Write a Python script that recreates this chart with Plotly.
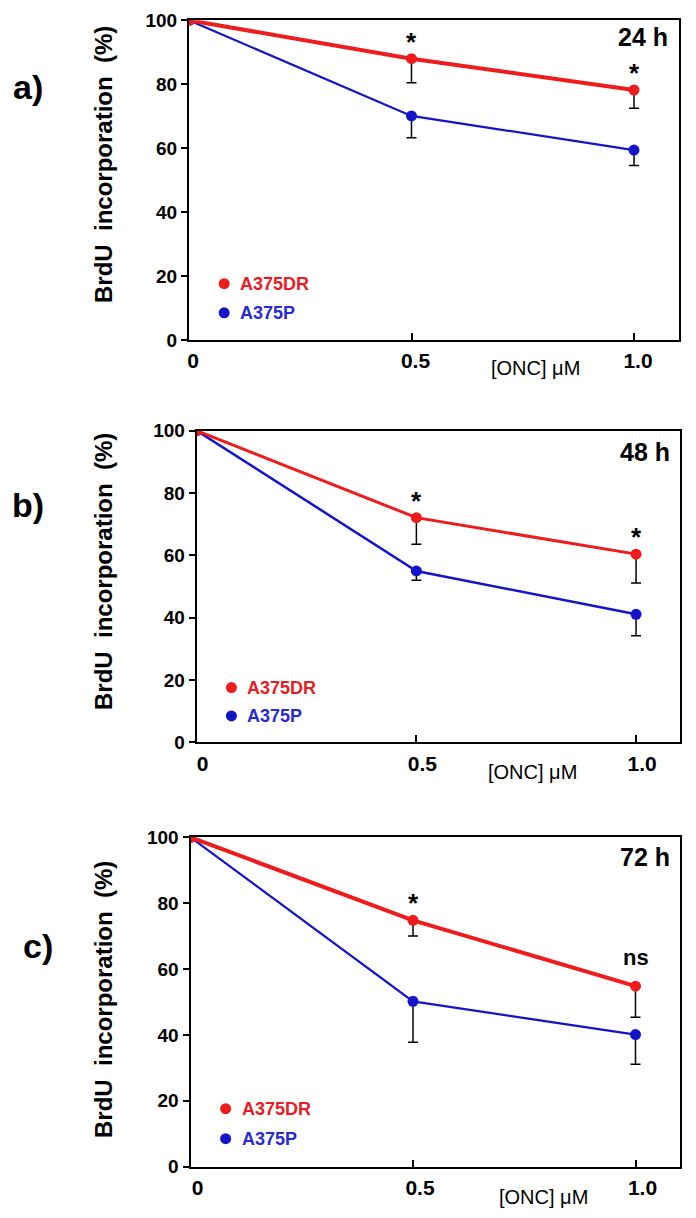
import plotly.graph_objects as go

W, H = 696, 1218

# ---------------- data ----------------
conc = [0, 0.5, 1.0]
x_tick_vals = [0, 0.5, 1.0]
x_tick_text = ["0", "0.5", "1.0"]
y_tick_vals = [0, 20, 40, 60, 80, 100]
series_names = ["A375DR", "A375P"]
x_title = "[ONC] μM"
y_title = "BrdU  incorporation  (%)"
panel_letters = ["a)", "b)", "c)"]
time_labels = ["24 h", "48 h", "72 h"]

dr_24 = [100, 88.0, 78.2]
dr_24_sd = [0, 7.5, 5.7]
p_24 = [100, 70.1, 59.4]
p_24_sd = [0, 6.8, 4.8]
sig_24 = ["", "*", "*"]

dr_48 = [100, 72.1, 60.4]
dr_48_sd = [0, 8.5, 9.3]
p_48 = [100, 55.0, 41.1]
p_48_sd = [0, 3.0, 6.9]
sig_48 = ["", "*", "*"]

dr_72 = [100, 74.8, 54.8]
dr_72_sd = [0, 4.8, 9.4]
p_72 = [100, 50.2, 40.1]
p_72_sd = [0, 12.4, 9.0]
sig_72 = ["", "*", "ns"]

# ---------------- style ----------------
FONT = "Arial, 'Liberation Sans', sans-serif"
RED = "#ee1c1c"
BLUE = "#1414c8"
RED_TXT = "#e81c22"
BLUE_TXT = "#2a2ad2"

panels = [
    dict(dr=dr_24, dr_sd=dr_24_sd, p=p_24, p_sd=p_24_sd, sig=sig_24,
         xpx=(189, 678.5), ypx=(20.3, 340), dr_w=4, p_w=2.2, tshift=4,
         letter=(28, 87), ytitle_c=165, onc=(535, 368), time=(670, 37)),
    dict(dr=dr_48, dr_sd=dr_48_sd, p=p_48, p_sd=p_48_sd, sig=sig_48,
         xpx=(196.7, 680), ypx=(430.7, 742.4), dr_w=3, p_w=2.5, tshift=6,
         letter=(28, 505), ytitle_c=572, onc=(532, 772), time=(672, 452)),
    dict(dr=dr_72, dr_sd=dr_72_sd, p=p_72, p_sd=p_72_sd, sig=sig_72,
         xpx=(190.5, 680), ypx=(837.3, 1166.7), dr_w=4, p_w=2.2, tshift=7,
         letter=(38, 946), ytitle_c=1000, onc=(543, 1197), time=(672, 857)),
]

legend_pos = dict(x=0.079, y_dr=17.6, y_p=8.5)

fig = go.Figure()
annotations = []
layout_axes = {}

for i, pn in enumerate(panels):
    k = "" if i == 0 else str(i + 1)
    xa, ya = "x" + k, "y" + k
    # blue first (below), red on top
    for vals, sd, color, lw in [(pn["p"], pn["p_sd"], BLUE, pn["p_w"]),
                                (pn["dr"], pn["dr_sd"], RED, pn["dr_w"])]:
        fig.add_trace(go.Scatter(
            x=conc, y=vals, mode="lines+markers", xaxis=xa, yaxis=ya,
            line=dict(color=color, width=lw),
            marker=dict(color=color, size=11),
            error_y=dict(type="data", symmetric=False, array=[0] * len(sd),
                         arrayminus=sd, color="black", thickness=1.5, width=5),
            showlegend=False, hoverinfo="skip"))
    # in-plot legend
    for name, yy, color, tcol in [(series_names[0], legend_pos["y_dr"], RED, RED_TXT),
                                  (series_names[1], legend_pos["y_p"], BLUE, BLUE_TXT)]:
        fig.add_trace(go.Scatter(
            x=[legend_pos["x"]], y=[yy], mode="markers", xaxis=xa, yaxis=ya,
            marker=dict(color=color, size=11),
            showlegend=False, hoverinfo="skip"))
        annotations.append(dict(
            x=legend_pos["x"], y=yy, xref=xa, yref=ya, text="<b>%s</b>" % name,
            showarrow=False, xanchor="left", yanchor="middle", xshift=14,
            font=dict(family=FONT, size=18, color=tcol)))
    # significance marks
    for xv, yv, s in zip(conc, pn["dr"], pn["sig"]):
        if not s:
            continue
        annotations.append(dict(
            x=xv, y=yv, xref=xa, yref=ya, text="<b>%s</b>" % s, showarrow=False,
            yanchor="bottom", yshift=(0 if s == "*" else 14),
            font=dict(family=FONT, size=26 if s == "*" else 22, color="black")))

    x0, x1 = pn["xpx"]
    ytop, ybot = pn["ypx"]
    axis_common = dict(showline=True, linecolor="black", linewidth=2, mirror=True,
                       showgrid=False, zeroline=False, automargin=False)
    layout_axes["xaxis" + k] = dict(
        domain=[x0 / W, x1 / W], anchor=ya, range=[0, 1.1],
        tickvals=x_tick_vals, ticktext=x_tick_text,
        ticks="inside", ticklen=7, tickwidth=2, tickcolor="black",
        ticklabelstandoff=1, ticklabelshift=pn["tshift"],
        tickfont=dict(family=FONT, size=21, color="black", weight="bold"),
        **axis_common)
    layout_axes["yaxis" + k] = dict(
        domain=[1 - ybot / H, 1 - ytop / H], anchor=xa, range=[0, 100],
        tickvals=y_tick_vals, ticks="outside", ticklen=6, tickwidth=2,
        tickcolor="black",
        tickfont=dict(family=FONT, size=19, color="black", weight="bold"),
        **axis_common)
    # x axis title
    annotations.append(dict(
        x=pn["onc"][0] / W, y=1 - pn["onc"][1] / H, xref="paper", yref="paper",
        text=x_title, showarrow=False, xanchor="center", yanchor="middle",
        font=dict(family=FONT, size=20, color="black")))
    # y axis title
    annotations.append(dict(
        x=103 / W, y=1 - pn["ytitle_c"] / H, xref="paper", yref="paper",
        text="<b>%s</b>" % y_title, showarrow=False, textangle=-90,
        xanchor="center", yanchor="middle",
        font=dict(family=FONT, size=24, color="black")))
    # panel letter
    annotations.append(dict(
        x=pn["letter"][0] / W, y=1 - pn["letter"][1] / H, xref="paper", yref="paper",
        text="<b>%s</b>" % panel_letters[i], showarrow=False,
        xanchor="center", yanchor="middle",
        font=dict(family=FONT, size=34, color="black")))
    # time label
    annotations.append(dict(
        x=pn["time"][0] / W, y=1 - pn["time"][1] / H, xref="paper", yref="paper",
        text="<b>%s</b>" % time_labels[i], showarrow=False,
        xanchor="right", yanchor="middle",
        font=dict(family=FONT, size=25, color="black")))

fig.update_layout(
    template="none",
    width=W, height=H, margin=dict(l=0, r=0, t=0, b=0, autoexpand=False),
    paper_bgcolor="white", plot_bgcolor="white",
    font=dict(family=FONT, color="black"),
    annotations=annotations, showlegend=False,
    **layout_axes)

fig.write_html("out.html",
               config={"displayModeBar": False},
               post_script="document.body.style.margin='0';"
                           "document.body.style.overflow='hidden';")
